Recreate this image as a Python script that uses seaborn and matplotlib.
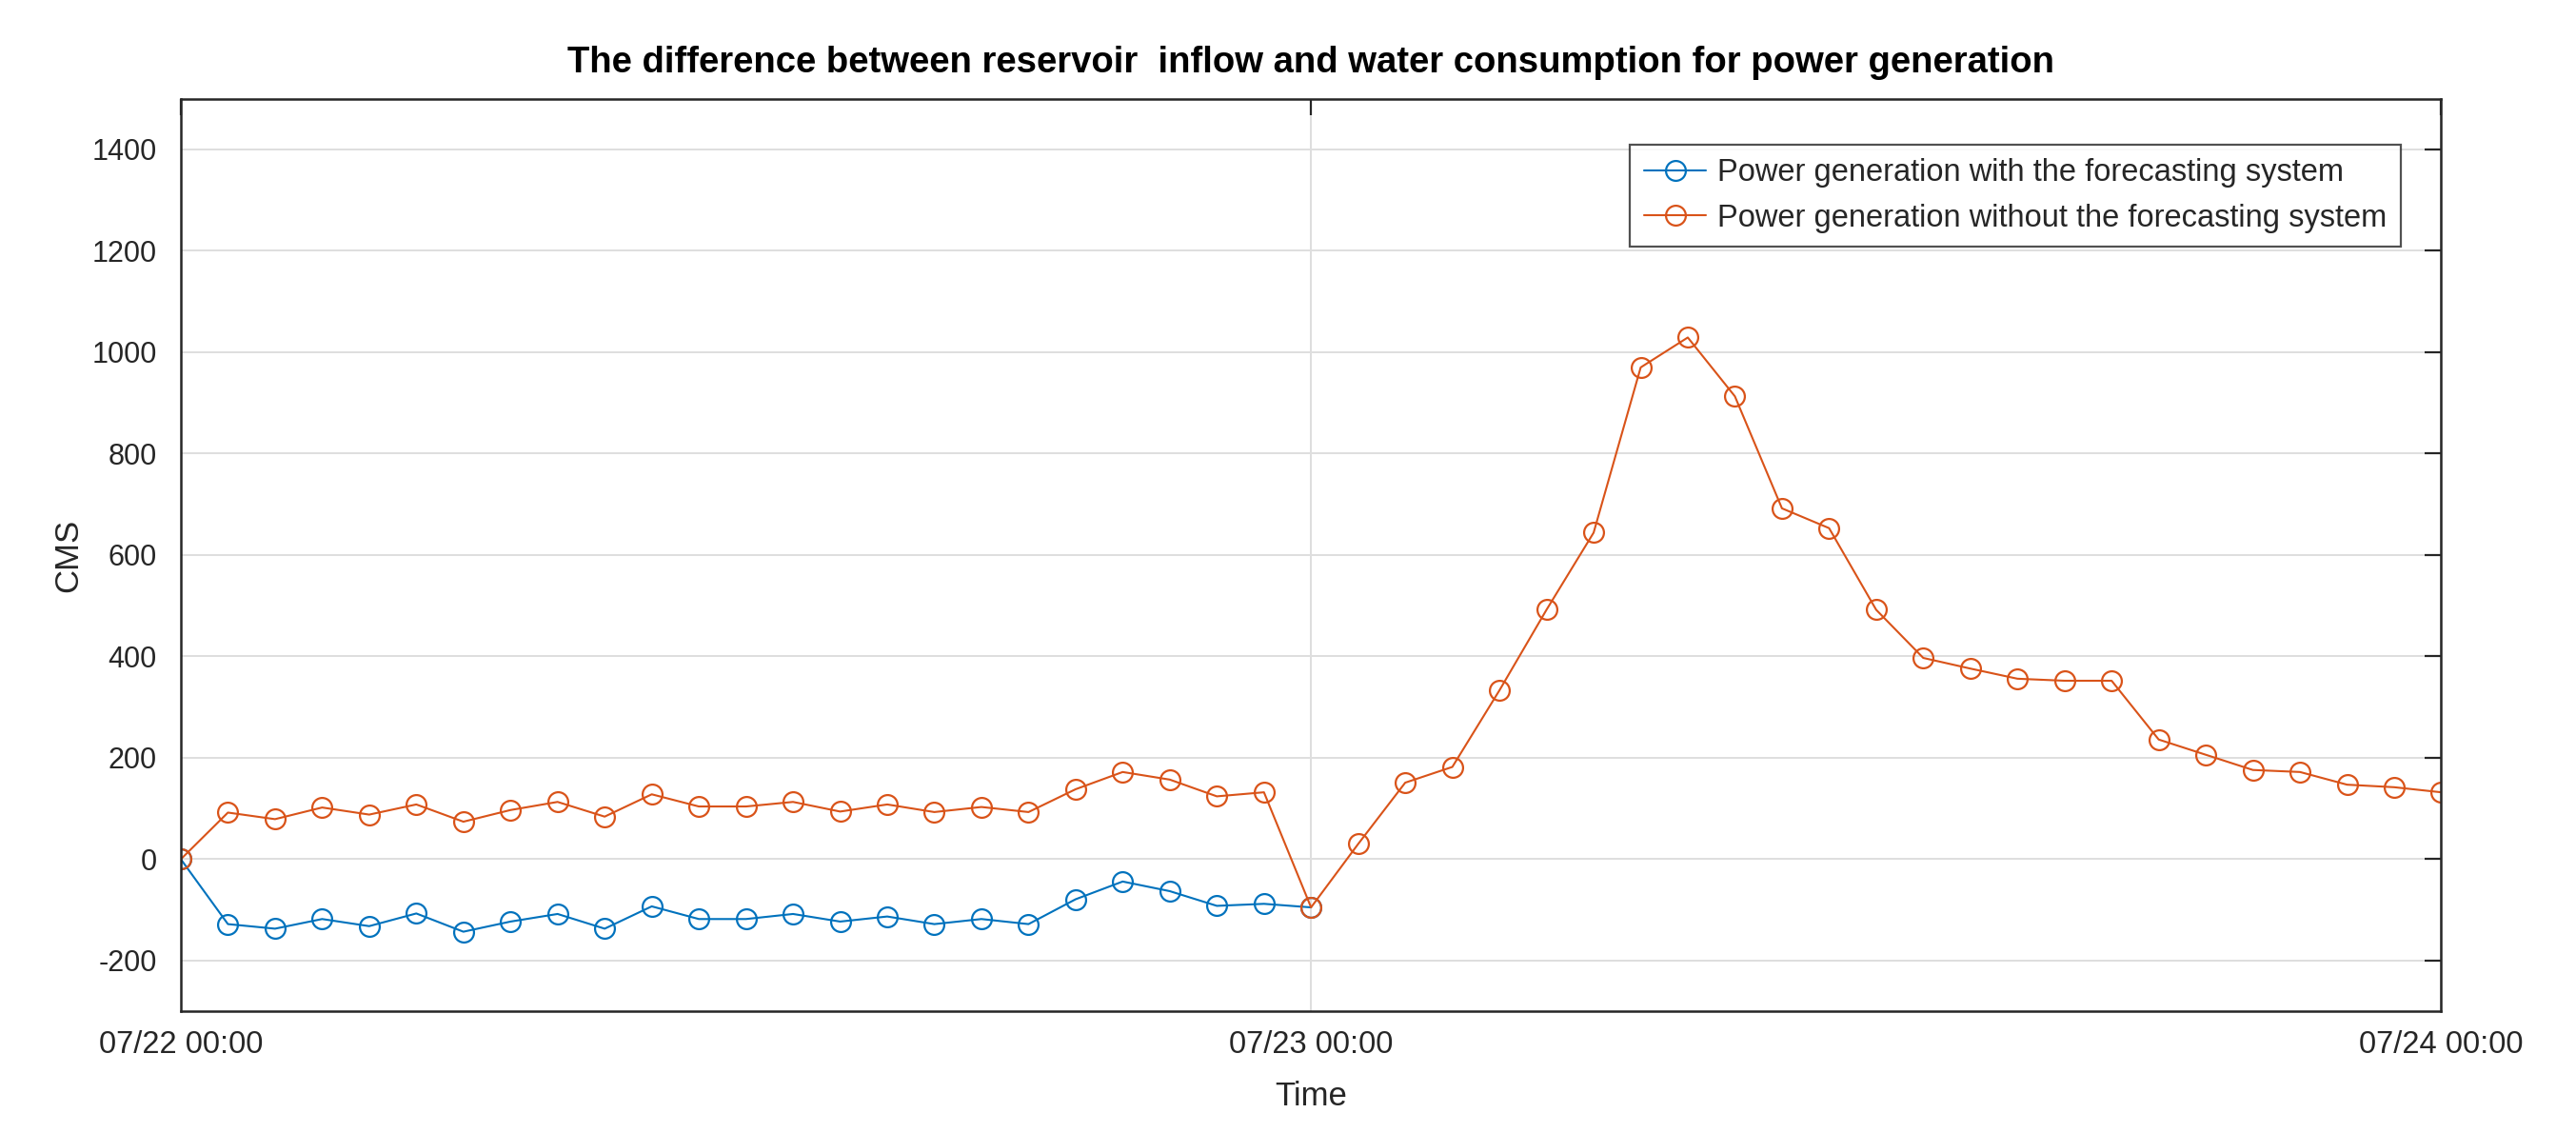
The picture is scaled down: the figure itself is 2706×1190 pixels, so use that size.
import matplotlib
matplotlib.use("Agg")
import matplotlib.pyplot as plt
import matplotlib.dates as mdates
import seaborn as sns
import pandas as pd
import numpy as np

# hourly values (CMS)
times = pd.date_range("2019-07-22 00:00", "2019-07-24 00:00", freq="h")

with_forecast = [0, -128, -137, -118, -132, -107, -143, -123, -108, -137, -93,
                 -118, -118, -108, -123, -113, -128, -118, -128, -79, -44,
                 -63, -92, -88, -95]

without_forecast = [0, 92, 79, 102, 88, 108, 74, 97, 113, 84, 128, 104, 104,
                    113, 94, 108, 93, 103, 93, 138, 172, 157, 124, 132, -95,
                    30, 151, 182, 333, 492, 644, 970, 1029, 913, 692, 653,
                    492, 397, 376, 356, 352, 352, 236, 206, 176, 172, 147,
                    142, 132]

labels = ["Power generation with the forecasting system",
          "Power generation without the forecasting system"]
colors = ["#0072BD", "#D95319"]

sns.set_theme(style="white")
plt.rcParams["font.family"] = ["Liberation Sans", "DejaVu Sans"]
plt.rcParams["axes.unicode_minus"] = False

fig = plt.figure(figsize=(27.06, 11.9), dpi=100)
ax = fig.add_axes([0.0702, 0.1074, 0.8775, 0.8055])

for vals, lab, col in zip([with_forecast, without_forecast], labels, colors):
    sns.lineplot(x=times[:len(vals)], y=vals, ax=ax, color=col, label=lab,
                 marker="o", markersize=15, markerfacecolor="none",
                 markeredgecolor=col, markeredgewidth=1.6, linewidth=1.5)

ax.set_xlim(times[0], times[-1])
ax.set_ylim(-300, 1500)
ax.set_yticks(np.arange(-200, 1401, 200))
ax.set_xticks([times[0], times[24], times[48]])
ax.xaxis.set_major_formatter(mdates.DateFormatter("%m/%d %H:%M"))

ax.grid(True, color="#dedede", linewidth=1.4)
ax.set_axisbelow(True)
for sp in ax.spines.values():
    sp.set_color("#262626")
    sp.set_linewidth(1.8)
ax.tick_params(direction="in", length=12, width=1.6, color="#262626",
               labelsize=22, labelcolor="#262626", top=True, right=True,
               pad=18)
ax.tick_params(axis="x", labelsize=23.5, pad=14)

ax.set_title("The difference between reservoir  inflow and water consumption for power generation",
             fontsize=27.5, fontweight="bold", color="black", pad=20)
ax.set_xlabel("Time", fontsize=25, color="#262626", labelpad=16)
ax.set_ylabel("CMS", fontsize=25, color="#262626", labelpad=6)

leg = ax.legend(loc="upper right", bbox_to_anchor=(0.982, 0.95), fontsize=23.5,
                frameon=True, fancybox=False, handlelength=2.0,
                borderpad=0.45, labelspacing=0.5, handletextpad=0.35,
                borderaxespad=0)
leg.get_frame().set_edgecolor("#262626")
leg.get_frame().set_linewidth(1.6)

fig.savefig("out.png", dpi=100)
